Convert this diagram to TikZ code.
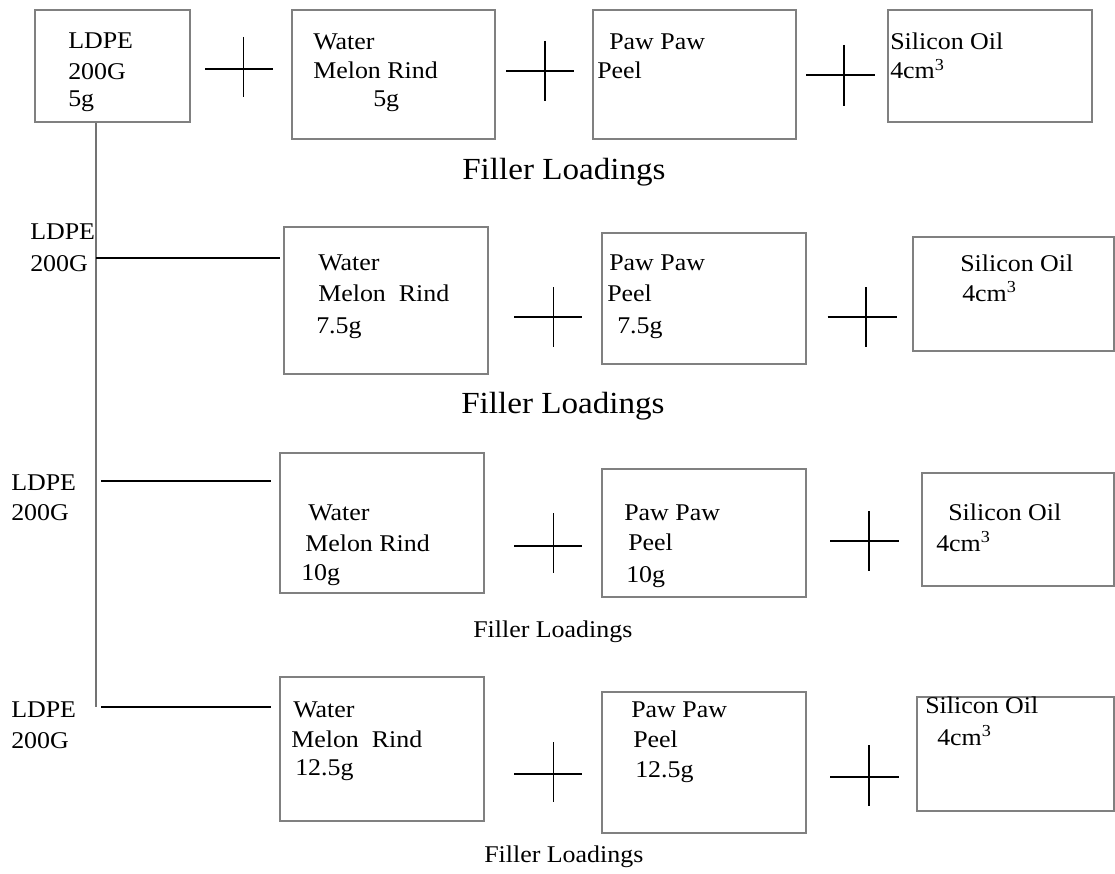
\documentclass[tikz,border=0pt]{standalone}
\usepackage{fontspec}
\setmainfont{Liberation Serif}[FakeStretch=1.08]
\usetikzlibrary{fit}
\begin{document}
\begin{tikzpicture}[x=0.75pt,y=-0.75pt,
  box/.style={draw=black!50,line width=0.9pt,inner sep=0pt,rectangle},
  lbl/.style={anchor=base west,inner sep=0pt,font=\fontsize{18}{22}\selectfont},
  bigf/.style={anchor=base west,inner sep=0pt,font=\fontsize{23}{27}\selectfont},
  smallf/.style={anchor=base west,inner sep=0pt,font=\fontsize{18}{22}\selectfont},
  plusline/.style={draw=black,line width=0.8pt},
  hline/.style={draw=black,line width=0.8pt},
  vline/.style={draw=black!55,line width=0.9pt}]
\useasboundingbox (0,0) rectangle (1115,874);
\newcommand\bx[5]{\node[box,fit={(#2,#3)(#4,#5)}] (#1) {};}
\newcommand\tx[4]{\node[lbl] (#1) at (#2,#3) {#4};}
\newcommand\crs[7]{\draw[plusline] (#1,#3) -- (#2,#3); \draw[plusline] (#4,#5) -- (#4,#6);}
% boxes
\bx{A1}{35}{10}{190}{122}
\bx{B1}{292}{10}{495}{139}
\bx{C1}{593}{10}{796}{139}
\bx{D1}{888}{10}{1092}{122}
\bx{B2}{284}{227}{488}{374}
\bx{C2}{602}{233}{806}{364}
\bx{D2}{913}{237}{1114}{351}
\bx{B3}{280}{453}{484}{593}
\bx{C3}{602}{469}{806}{597}
\bx{D3}{922}{473}{1114}{586}
\bx{B4}{280}{677}{484}{821}
\bx{C4}{602}{692}{806}{833}
\bx{D4}{917}{697}{1114}{811}
% row 1 texts
\tx{a1}{68}{49}{LDPE}
\tx{a2}{68}{80}{200G}
\tx{a3}{68}{107}{5g}
\tx{b11}{313}{50}{Water}
\tx{b12}{313}{79}{Melon Rind}
\tx{b13}{373}{107}{5g}
\tx{c11}{609}{50}{Paw Paw}
\tx{c12}{597}{79}{Peel}
\tx{d11}{890}{50}{Silicon Oil}
\tx{d12}{890}{79}{4cm\textsuperscript{3}}
\node[bigf] (f1) at (462,180) {Filler Loadings};
% row 2 texts
\tx{l21}{30}{239}{LDPE}
\tx{l22}{30}{271}{200G}
\tx{b21}{318}{270}{Water}
\tx{b22}{318}{301}{Melon\ \ Rind}
\tx{b23}{316}{333}{7.5g}
\tx{c21}{609}{270}{Paw Paw}
\tx{c22}{607}{301}{Peel}
\tx{c23}{617}{333}{7.5g}
\tx{d21}{960}{271}{Silicon Oil}
\tx{d22}{962}{301}{4cm\textsuperscript{3}}
\node[bigf] (f2) at (461,413) {Filler Loadings};
% row 3 texts
\tx{l31}{11}{490}{LDPE}
\tx{l32}{11}{520}{200G}
\tx{b31}{308}{520}{Water}
\tx{b32}{305}{551}{Melon Rind}
\tx{b33}{301}{580}{10g}
\tx{c31}{624}{520}{Paw Paw}
\tx{c32}{628}{550}{Peel}
\tx{c33}{626}{582}{10g}
\tx{d31}{948}{520}{Silicon Oil}
\tx{d32}{936}{551}{4cm\textsuperscript{3}}
\node[smallf] (f3) at (473,637) {Filler Loadings};
% row 4 texts
\tx{l41}{11}{717}{LDPE}
\tx{l42}{11}{748}{200G}
\tx{b41}{293}{717}{Water}
\tx{b42}{291}{747}{Melon\ \ Rind}
\tx{b43}{295}{775}{12.5g}
\tx{c41}{631}{717}{Paw Paw}
\tx{c42}{633}{747}{Peel}
\tx{c43}{635}{777}{12.5g}
\tx{d41}{925}{713}{Silicon Oil}
\tx{d42}{937}{745}{4cm\textsuperscript{3}}
\node[smallf] (f4) at (484,862) {Filler Loadings};
% plus signs
\crs{205}{273}{69}{243.6}{37}{97}{}
\crs{506}{574}{71}{545}{41}{101}{}
\crs{806}{875}{75}{844}{45}{106}{}
\crs{514}{582}{317}{553.6}{287}{347}{}
\crs{827.5}{897}{317}{866}{287}{347}{}
\crs{514}{582}{546}{553.6}{513}{573}{}
\crs{830}{898.6}{541}{869}{511}{571}{}
\crs{514}{582}{774}{553.6}{742}{802}{}
\crs{830}{898.6}{777}{869}{745}{806}{}
% connectors
\coordinate (vend) at (96,707);
\coordinate (h2s) at (96,258);
\coordinate (h3s) at (101,481);
\coordinate (h4s) at (101,707);
\draw[vline] (vend |- A1.south) -- (vend);
\draw[hline,shorten >=2.25pt] (h2s) -- (h2s -| B2.west);
\draw[hline,shorten >=6pt] (h3s) -- (h3s -| B3.west);
\draw[hline,shorten >=6pt] (h4s) -- (h4s -| B4.west);
\end{tikzpicture}
\end{document}
